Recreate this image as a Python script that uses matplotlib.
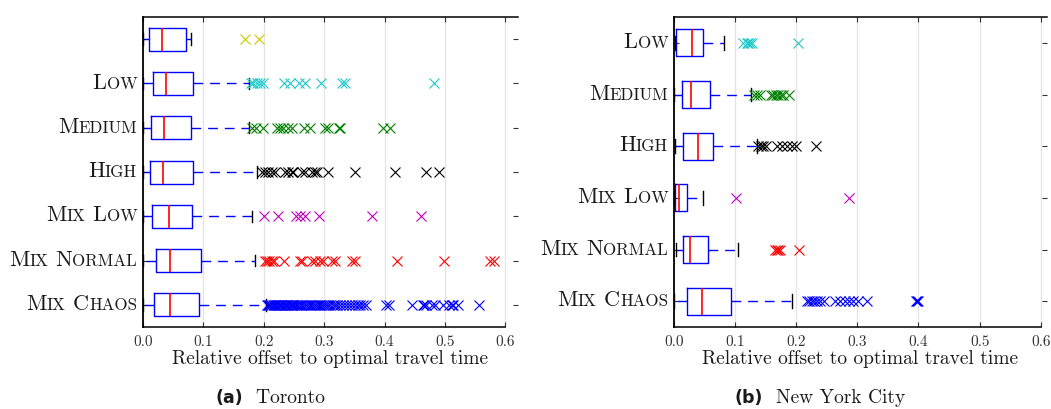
import matplotlib
matplotlib.use("Agg")
import matplotlib.pyplot as plt
from matplotlib.offsetbox import TextArea, HPacker, AnnotationBbox

plt.rcParams['font.family'] = 'cmr10'
plt.rcParams['axes.formatter.use_mathtext'] = True
plt.rcParams['mathtext.fontset'] = 'cm'

# ---- Toronto ----
tor_labels = ["", "Low", "Medium", "High", "Mix Low", "Mix Normal", "Mix Chaos"]
tor_lo = [0.001, 0.001, 0.001, 0.001, 0.001, 0.001, 0.001]
tor_q1 = [0.010, 0.0176, 0.0137, 0.012, 0.0149, 0.022, 0.0193]
tor_med = [0.032, 0.038, 0.0358, 0.034, 0.0435, 0.0452, 0.0452]
tor_q3 = [0.071, 0.0828, 0.080, 0.0838, 0.0822, 0.096, 0.0938]
tor_hi = [0.0795, 0.175, 0.175, 0.189, 0.180, 0.186, 0.2036]
tor_colors = ["#c8c800", "#1fc8c8", "#008000", "black", "#c000c0", "red", "blue"]
tor_fliers = [
    [0.169, 0.193],
    [0.179, 0.183, 0.1886, 0.1941, 0.1997, 0.233, 0.244, 0.258, 0.269, 0.295,
     0.329, 0.335, 0.481],
    [0.180, 0.188, 0.199, 0.2218, 0.2273, 0.2328, 0.241, 0.2466, 0.266, 0.277,
     0.302, 0.307, 0.324, 0.327, 0.398, 0.409],
    [0.197, 0.2025, 0.208, 0.2135, 0.219, 0.2356, 0.241, 0.2466, 0.2494, 0.263,
     0.269, 0.280, 0.285, 0.288, 0.306, 0.3515, 0.4166, 0.4685, 0.4906],
    [0.2008, 0.2245, 0.2538, 0.2604, 0.2687, 0.2924, 0.379, 0.460],
    [0.2025, 0.2053, 0.2097, 0.2135, 0.2174, 0.2345, 0.2604, 0.263, 0.2797,
     0.285, 0.2935, 0.299, 0.3128, 0.3183, 0.3459, 0.3514, 0.4207, 0.4977,
     0.575, 0.5805],
    [0.205, 0.207, 0.209, 0.211, 0.213, 0.215, 0.217, 0.219, 0.221, 0.223,
     0.225, 0.227, 0.229, 0.231, 0.233, 0.235, 0.237, 0.239, 0.241, 0.243,
     0.245, 0.247, 0.249, 0.251, 0.253, 0.255, 0.258, 0.261, 0.264, 0.267,
     0.270, 0.273, 0.276, 0.279, 0.282, 0.285, 0.288, 0.291, 0.294, 0.297,
     0.300, 0.303, 0.306, 0.310, 0.314, 0.318, 0.322, 0.326, 0.331, 0.336,
     0.341, 0.346, 0.351, 0.356, 0.360, 0.365, 0.370, 0.402, 0.407, 0.445,
     0.463, 0.466, 0.469, 0.479, 0.484, 0.4975, 0.506, 0.511, 0.514, 0.521,
     0.557],
]

# ---- New York City ----
nyc_labels = ["Low", "Medium", "High", "Mix Low", "Mix Normal", "Mix Chaos"]
nyc_lo = [0.002, 0.001, 0.002, 0.001, 0.003, 0.001]
nyc_q1 = [0.0038, 0.013, 0.0147, 0.0025, 0.0158, 0.0223]
nyc_med = [0.0294, 0.0278, 0.0397, 0.008, 0.0267, 0.0463]
nyc_q3 = [0.0484, 0.0599, 0.0648, 0.0212, 0.0566, 0.0942]
nyc_hi = [0.0822, 0.1263, 0.1356, 0.0474, 0.1045, 0.1928]
nyc_colors = ["#1fc8c8", "#008000", "black", "#c000c0", "red", "blue"]
nyc_fliers = [
    [0.1138, 0.119, 0.122, 0.1247, 0.1275, 0.2036],
    [0.131, 0.1356, 0.141, 0.1585, 0.163, 0.167, 0.171, 0.175, 0.179, 0.189],
    [0.1383, 0.1427, 0.1465, 0.151, 0.168, 0.1765, 0.1846, 0.193, 0.2, 0.2325],
    [0.1023, 0.286],
    [0.1655, 0.1683, 0.171, 0.1737, 0.2052],
    [0.2173, 0.2216, 0.2255, 0.2293, 0.2337, 0.239, 0.2456, 0.2636, 0.2717,
     0.2799, 0.287, 0.2935, 0.3006, 0.3164, 0.396, 0.398, 0.3998],
]

xticks = [0.0, 0.1, 0.2, 0.3, 0.4, 0.5, 0.6]


def smallcaps_box(label, big=16, small=12.2):
    parts = []
    for wi, word in enumerate(label.split(" ")):
        if wi > 0:
            parts.append(TextArea(" ", textprops=dict(size=big, family="cmr10")))
        parts.append(TextArea(word[0], textprops=dict(size=big, family="cmr10", color="#1a1a1a")))
        if len(word) > 1:
            parts.append(TextArea(word[1:].upper(),
                                  textprops=dict(size=small, family="cmr10", color="#1a1a1a")))
    return HPacker(children=parts, align="baseline", pad=0, sep=0)


def draw_panel(ax, labels, lo, q1, med, q3, hi, fliers, colors, xmax):
    stats = []
    for i in range(len(labels)):
        stats.append(dict(med=med[i], q1=q1[i], q3=q3[i], whislo=lo[i],
                          whishi=hi[i], fliers=fliers[i]))
    pos = list(range(1, len(labels) + 1))
    bp = ax.bxp(stats, positions=pos, widths=0.52, capwidths=0.26,
                orientation='horizontal', showfliers=True,
                boxprops=dict(color="blue", lw=1.0),
                whiskerprops=dict(color="blue", lw=1.0, linestyle=(0, (7, 5))),
                capprops=dict(color="black", lw=1.0),
                medianprops=dict(color="red", lw=1.2),
                flierprops=dict(marker="x", markersize=6.5, markeredgewidth=0.8,
                                linestyle="none"))
    for fl, c in zip(bp['fliers'], colors):
        fl.set_markeredgecolor(c)
        fl.set_markerfacecolor(c)

    ax.set_xlim(0, xmax)
    ax.set_ylim(len(labels) + 0.5, 0.5)
    ax.set_xticks(xticks)
    ax.set_xticklabels([f"{t:.1f}" for t in xticks])
    ax.set_yticks(pos)
    ax.set_yticklabels([""] * len(pos))
    ax.grid(axis="x", color="#e4e4e4", lw=0.9)
    ax.set_axisbelow(True)
    ax.tick_params(axis="x", direction="in", top=True, bottom=True, length=3.5,
                   width=0.8, color="#333333", labelsize=11, pad=5,
                   labelcolor="#333333")
    ax.tick_params(axis="y", direction="in", left=True, right=True, length=3.5,
                   width=0.8, color="#333333")
    ax.spines["right"].set_visible(False)
    ax.spines["left"].set_linewidth(1.3)
    ax.spines["bottom"].set_linewidth(1.1)
    ax.spines["top"].set_linewidth(1.1)
    ax.spines["bottom"].set_bounds(0, 0.6)
    ax.set_xlabel("Relative offset to optimal travel time", fontsize=14,
                  labelpad=1, color="#1a1a1a")
    for p, lab in zip(pos, labels):
        if lab:
            ab = AnnotationBbox(smallcaps_box(lab), (0, p),
                                xycoords=ax.get_yaxis_transform(),
                                xybox=(-4, 0), boxcoords="offset points",
                                box_alignment=(1.0, 0.42), frameon=False,
                                pad=0)
            ax.add_artist(ab)


fig = plt.figure(figsize=(10.51, 4.10), dpi=100)
ax1 = fig.add_axes([0.1358, 0.2, 0.493 - 0.1358, 0.956 - 0.2])
ax2 = fig.add_axes([0.641, 0.2, 0.9962 - 0.641, 0.956 - 0.2])

draw_panel(ax1, tor_labels, tor_lo, tor_q1, tor_med, tor_q3, tor_hi,
           tor_fliers, tor_colors, 0.621)
draw_panel(ax2, nyc_labels, nyc_lo, nyc_q1, nyc_med, nyc_q3, nyc_hi,
           nyc_fliers, nyc_colors, 0.61)


def caption(tag, name, x):
    box = HPacker(children=[
        TextArea(tag, textprops=dict(size=12.5, family="DejaVu Sans", weight="bold", color="#1a1a1a")),
        TextArea("  " + name, textprops=dict(size=14, family="cmr10", color="#1a1a1a")),
    ], align="baseline", pad=0, sep=0)
    fig.add_artist(AnnotationBbox(box, (x, 0.03), xycoords="figure fraction",
                                  box_alignment=(0.5, 0.5), frameon=False, pad=0))


caption("(a)", "Toronto", 0.257)
caption("(b)", "New York City", 0.780)

fig.savefig("out.png", dpi=100)
